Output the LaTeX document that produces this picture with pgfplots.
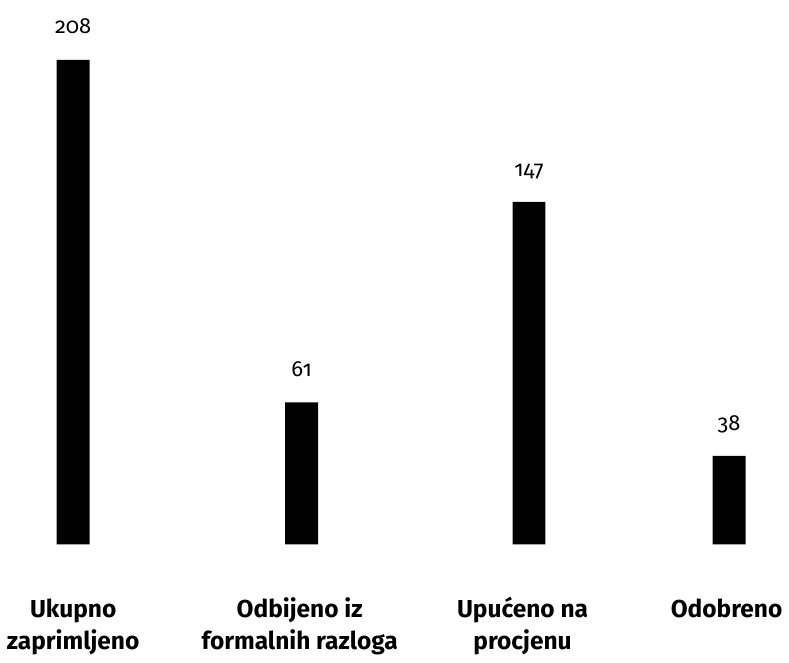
\documentclass[border=0pt]{standalone}
\usepackage{pgfplots}
\pgfplotsset{compat=1.18}
\usepackage{fontspec}
\setmainfont{Fira Sans}[Numbers=OldStyle]
\begin{document}
\begin{tikzpicture}
\begin{axis}[
  scale only axis,
  width=394.5pt, height=331.5pt,
  xmin=0, xmax=789,
  ymin=-49.55, ymax=233.66,
  hide axis,
  clip=false,
  ybar,
  bar width=33,
  bar shift=0pt,
  /pgf/number format/assume math mode=true,
  nodes near coords,
  every node near coord/.append style={font=\fontsize{11pt}{13pt}\selectfont, anchor=base, yshift=13pt, black},
]
\addplot[fill=black, draw=none] coordinates {(73.5,208) (303,61) (531.5,147) (732.5,38)};
\path (rel axis cs:0,0) rectangle (rel axis cs:1,1);
\tikzset{lab/.style={font=\fontseries{sb}\selectfont\fontsize{12.3pt}{16.5pt}\selectfont, align=center, anchor=base}}
\node[lab] at (axis cs:73.5,-45.28) {Ukupno\\zaprimljeno};
\node[lab] at (axis cs:301,-45.28) {Odbijeno iz\\formalnih razloga};
\node[lab] at (axis cs:525,-45.28) {Upućeno na\\procjenu};
\node[lab] at (axis cs:730,-31.2) {Odobreno};
\end{axis}
\end{tikzpicture}
\end{document}
